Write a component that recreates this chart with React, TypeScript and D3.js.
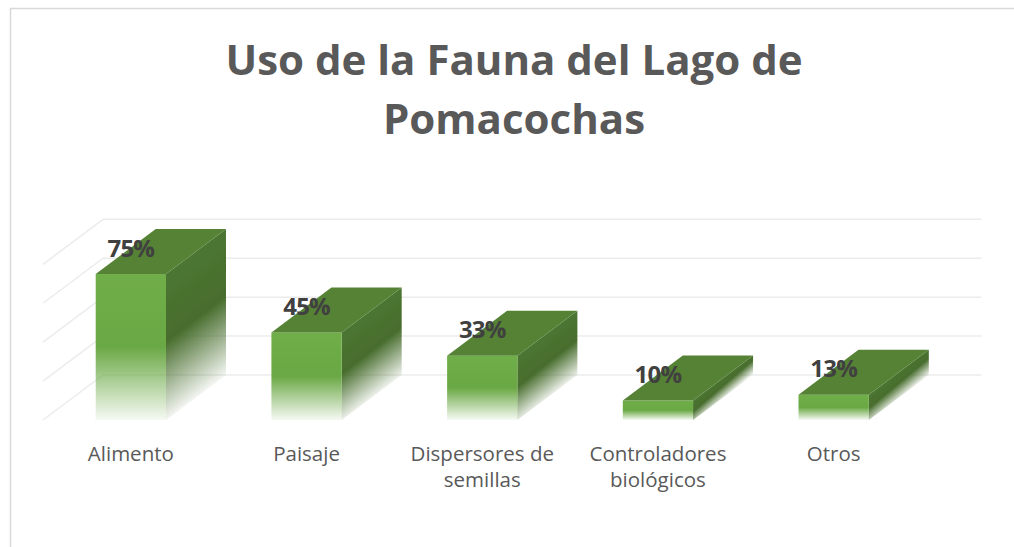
import React from "react";
import * as d3 from "d3";

const categories = ["Alimento", "Paisaje", "Dispersores de semillas", "Controladores biológicos", "Otros"];
const categoryLines = [["Alimento"], ["Paisaje"], ["Dispersores de", "semillas"], ["Controladores", "biológicos"], ["Otros"]];
const values = [75, 45, 33, 10, 13];
const valueLabels = ["75%", "45%", "33%", "10%", "13%"];
const gridTicks = [0, 20, 40, 60, 80];
const titleLines = ["Uso de la Fauna del Lago de", "Pomacochas"];

const W = 1014;
const H = 547;
const left = 43;
const right = 921.5;
const baseY = 420;
const topY = 264.3;
const DX = 60;
const DY = -45;

export default function App() {
  const x = d3.scaleBand<string>().domain(categories).range([left, right]).paddingInner(0.6).paddingOuter(0.3);
  const y = d3.scaleLinear().domain([0, 80]).range([baseY, topY]);
  const bw = x.bandwidth();
  const font = "'Open Sans', 'Noto Sans', sans-serif";

  return (
    <div style={{ position: "absolute", left: 0, top: 0, width: W, height: H, background: "#fff" }}>
      <svg width={W} height={H} viewBox={`0 0 ${W} ${H}`} style={{ display: "block" }}>
        <defs>
          <linearGradient id="frontGrad" x1="0" y1="0" x2="0" y2="1">
            <stop offset="0" stopColor="#6fae48" stopOpacity={1} />
            <stop offset="0.5" stopColor="#6aa844" stopOpacity={1} />
            <stop offset="1" stopColor="#6aa844" stopOpacity={0.06} />
          </linearGradient>
          {values.map((v, i) => {
            const xb = x(categories[i])! + bw;
            const yv = y(v);
            const L = (baseY - yv) * 0.8;
            return (
              <linearGradient key={i} id={`sideGrad${i}`} gradientUnits="userSpaceOnUse"
                x1={xb - L * 0.6} y1={baseY - L * 0.8} x2={xb + 4} y2={baseY + 3}>
                <stop offset="0" stopColor="#4d7631" stopOpacity={1} />
                <stop offset="0.45" stopColor="#476d2d" stopOpacity={1} />
                <stop offset="1" stopColor="#476d2d" stopOpacity={0} />
              </linearGradient>
            );
          })}
          <filter id="soft" x="-5%" y="-5%" width="110%" height="110%">
            <feGaussianBlur stdDeviation="0.5" />
          </filter>
        </defs>

        <rect x={10.5} y={8.5} width={W + 10} height={H + 10} fill="#fff" stroke="#d9d9d9" strokeWidth={1.5} />

        {gridTicks.map((t) => (
          <g key={t}>
            <line x1={left + DX} x2={right + DX} y1={y(t) + DY} y2={y(t) + DY} stroke="#ececec" strokeWidth={1.5} />
            <line x1={left} x2={left + DX} y1={y(t)} y2={y(t) + DY} stroke="#ececec" strokeWidth={1.5} />
          </g>
        ))}

        {values.map((v, i) => {
          const xb = x(categories[i])!;
          const yv = y(v);
          const top = [
            [xb, yv], [xb + DX, yv + DY], [xb + bw + DX, yv + DY], [xb + bw, yv],
          ];
          const side = [
            [xb + bw, yv], [xb + bw + DX, yv + DY], [xb + bw + DX, baseY + DY], [xb + bw, baseY],
          ];
          return (
            <g key={i} filter="url(#soft)">
              <polygon points={side.map((p) => p.join(",")).join(" ")} fill={`url(#sideGrad${i})`} />
              <rect x={xb} y={yv} width={bw} height={baseY - yv} fill="url(#frontGrad)" />
              <polygon points={top.map((p) => p.join(",")).join(" ")} fill="#548235" />
            </g>
          );
        })}

        {values.map((v, i) => (
          <text key={i} x={x(categories[i])! + bw / 2} y={y(v) - 27} textAnchor="middle" dominantBaseline="central"
            fontFamily={font} fontWeight={700} fontSize={24} fill="#404040" letterSpacing={-0.8}>
            {valueLabels[i]}
          </text>
        ))}

        {categoryLines.map((lines, i) => (
          <text key={i} x={x(categories[i])! + bw / 2} textAnchor="middle" fontFamily={font} fontSize={20.5} fill="#595959">
            {lines.map((ln, j) => (
              <tspan key={j} x={x(categories[i])! + bw / 2} y={461 + j * 26}>{ln}</tspan>
            ))}
          </text>
        ))}

        {titleLines.map((ln, j) => (
          <text key={j} x={514} y={75 + j * 59} textAnchor="middle" fontFamily={font} fontWeight={700} fontSize={42} fill="#595959">
            {ln}
          </text>
        ))}
      </svg>
    </div>
  );
}
